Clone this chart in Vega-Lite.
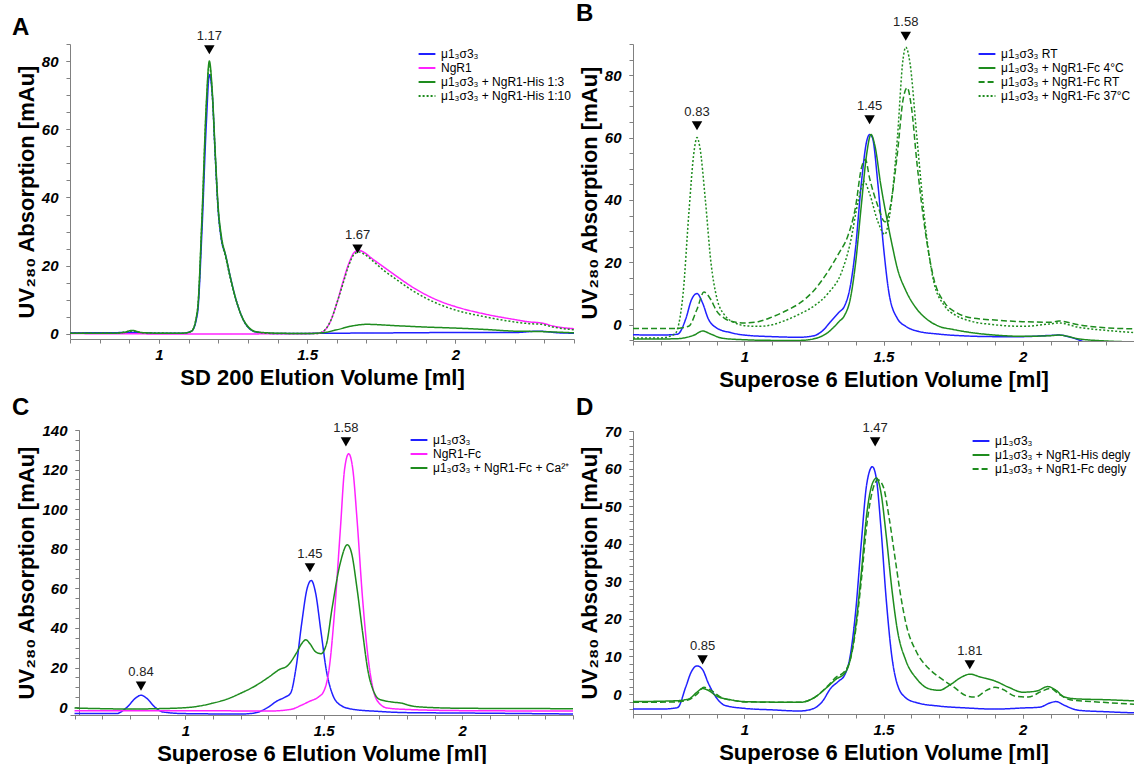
{
"$schema": "https://vega.github.io/schema/vega-lite/v6.json",
"padding": {"left": 12, "top": 2, "right": 0, "bottom": 0},
"config": {
  "font": "Liberation Sans",
  "view": {"stroke": null},
  "axis": {"grid": false, "domainColor": "#808080", "tickColor": "#808080", "tickSize": 4, "labelFont": "Liberation Sans", "labelFontSize": 15, "labelFontWeight": "bold", "labelFontStyle": "italic", "labelColor": "#000", "labelPadding": 4, "labelOverlap": false, "labelFlush": false, "labelBound": false, "titleFont": "Liberation Sans", "titleFontSize": 22, "titleFontWeight": "bold", "titleColor": "#000"},
  "axisX": {"titlePadding": 5},
  "axisY": {"titlePadding": 3, "labelPadding": 8},
  "legend": {"orient": "top-right", "offset": 3, "padding": 0, "title": null, "labelFont": "Liberation Sans", "labelFontSize": 12, "labelColor": "#000", "labelLimit": 400, "symbolType": "M-1.4,0H1.4", "symbolSize": 144, "symbolStrokeWidth": 2, "rowPadding": 1, "labelOffset": 7},
  "title": {"anchor": "start", "frame": "group", "fontSize": 24, "fontWeight": "bold", "font": "Liberation Sans", "color": "#000", "baseline": "alphabetic", "offset": -10}
},
"datasets": {
 "A": [
  {"s":"μ1₃σ3₃","x":0.70,"y":0.3},{"s":"μ1₃σ3₃","x":0.80,"y":0.3},{"s":"μ1₃σ3₃","x":0.90,"y":0.4},{"s":"μ1₃σ3₃","x":1.00,"y":0.2},{"s":"μ1₃σ3₃","x":1.08,"y":0.2},{"s":"μ1₃σ3₃","x":1.11,"y":0.8},{"s":"μ1₃σ3₃","x":1.13,"y":6},{"s":"μ1₃σ3₃","x":1.145,"y":30},{"s":"μ1₃σ3₃","x":1.16,"y":62},{"s":"μ1₃σ3₃","x":1.17,"y":76},{"s":"μ1₃σ3₃","x":1.18,"y":70},{"s":"μ1₃σ3₃","x":1.19,"y":52},{"s":"μ1₃σ3₃","x":1.20,"y":36},{"s":"μ1₃σ3₃","x":1.21,"y":28},{"s":"μ1₃σ3₃","x":1.225,"y":23},{"s":"μ1₃σ3₃","x":1.24,"y":17},{"s":"μ1₃σ3₃","x":1.26,"y":10},{"s":"μ1₃σ3₃","x":1.28,"y":5},{"s":"μ1₃σ3₃","x":1.30,"y":2},{"s":"μ1₃σ3₃","x":1.33,"y":0.5},{"s":"μ1₃σ3₃","x":1.40,"y":0.1},{"s":"μ1₃σ3₃","x":1.60,"y":0.2},{"s":"μ1₃σ3₃","x":1.80,"y":0.3},{"s":"μ1₃σ3₃","x":2.00,"y":0.4},{"s":"μ1₃σ3₃","x":2.20,"y":0.4},{"s":"μ1₃σ3₃","x":2.28,"y":0.8},{"s":"μ1₃σ3₃","x":2.35,"y":0.3},{"s":"μ1₃σ3₃","x":2.40,"y":0.2},
  {"s":"NgR1","x":0.70,"y":0.1},{"s":"NgR1","x":1.00,"y":0.0},{"s":"NgR1","x":1.30,"y":0.0},{"s":"NgR1","x":1.53,"y":0.1},{"s":"NgR1","x":1.55,"y":0.5},{"s":"NgR1","x":1.58,"y":4},{"s":"NgR1","x":1.60,"y":9},{"s":"NgR1","x":1.62,"y":15},{"s":"NgR1","x":1.64,"y":20.5},{"s":"NgR1","x":1.66,"y":24},{"s":"NgR1","x":1.675,"y":24.5},{"s":"NgR1","x":1.69,"y":24},{"s":"NgR1","x":1.72,"y":22},{"s":"NgR1","x":1.76,"y":19.5},{"s":"NgR1","x":1.80,"y":17},{"s":"NgR1","x":1.85,"y":14},{"s":"NgR1","x":1.90,"y":11.5},{"s":"NgR1","x":1.95,"y":9.5},{"s":"NgR1","x":2.00,"y":8},{"s":"NgR1","x":2.10,"y":5.8},{"s":"NgR1","x":2.20,"y":4.2},{"s":"NgR1","x":2.25,"y":3.5},{"s":"NgR1","x":2.29,"y":3.2},{"s":"NgR1","x":2.33,"y":2.3},{"s":"NgR1","x":2.40,"y":1.5},
  {"s":"μ1₃σ3₃ + NgR1-His 1:3","x":0.70,"y":0.2},{"s":"μ1₃σ3₃ + NgR1-His 1:3","x":0.85,"y":0.2},{"s":"μ1₃σ3₃ + NgR1-His 1:3","x":0.88,"y":0.4},{"s":"μ1₃σ3₃ + NgR1-His 1:3","x":0.91,"y":1.0},{"s":"μ1₃σ3₃ + NgR1-His 1:3","x":0.94,"y":0.4},{"s":"μ1₃σ3₃ + NgR1-His 1:3","x":1.00,"y":0.2},{"s":"μ1₃σ3₃ + NgR1-His 1:3","x":1.08,"y":0.2},{"s":"μ1₃σ3₃ + NgR1-His 1:3","x":1.11,"y":0.8},{"s":"μ1₃σ3₃ + NgR1-His 1:3","x":1.13,"y":7},{"s":"μ1₃σ3₃ + NgR1-His 1:3","x":1.145,"y":34},{"s":"μ1₃σ3₃ + NgR1-His 1:3","x":1.16,"y":68},{"s":"μ1₃σ3₃ + NgR1-His 1:3","x":1.17,"y":80},{"s":"μ1₃σ3₃ + NgR1-His 1:3","x":1.18,"y":71},{"s":"μ1₃σ3₃ + NgR1-His 1:3","x":1.19,"y":53},{"s":"μ1₃σ3₃ + NgR1-His 1:3","x":1.20,"y":37},{"s":"μ1₃σ3₃ + NgR1-His 1:3","x":1.21,"y":29},{"s":"μ1₃σ3₃ + NgR1-His 1:3","x":1.225,"y":23},{"s":"μ1₃σ3₃ + NgR1-His 1:3","x":1.24,"y":17},{"s":"μ1₃σ3₃ + NgR1-His 1:3","x":1.26,"y":10},{"s":"μ1₃σ3₃ + NgR1-His 1:3","x":1.28,"y":5},{"s":"μ1₃σ3₃ + NgR1-His 1:3","x":1.30,"y":2.2},{"s":"μ1₃σ3₃ + NgR1-His 1:3","x":1.33,"y":0.6},{"s":"μ1₃σ3₃ + NgR1-His 1:3","x":1.40,"y":0.2},{"s":"μ1₃σ3₃ + NgR1-His 1:3","x":1.50,"y":0.1},{"s":"μ1₃σ3₃ + NgR1-His 1:3","x":1.55,"y":0.3},{"s":"μ1₃σ3₃ + NgR1-His 1:3","x":1.60,"y":1.2},{"s":"μ1₃σ3₃ + NgR1-His 1:3","x":1.65,"y":2.3},{"s":"μ1₃σ3₃ + NgR1-His 1:3","x":1.70,"y":2.8},{"s":"μ1₃σ3₃ + NgR1-His 1:3","x":1.80,"y":2.4},{"s":"μ1₃σ3₃ + NgR1-His 1:3","x":1.90,"y":2.0},{"s":"μ1₃σ3₃ + NgR1-His 1:3","x":2.00,"y":1.7},{"s":"μ1₃σ3₃ + NgR1-His 1:3","x":2.10,"y":1.3},{"s":"μ1₃σ3₃ + NgR1-His 1:3","x":2.20,"y":0.8},{"s":"μ1₃σ3₃ + NgR1-His 1:3","x":2.28,"y":0.7},{"s":"μ1₃σ3₃ + NgR1-His 1:3","x":2.40,"y":0.3},
  {"s":"μ1₃σ3₃ + NgR1-His 1:10","x":0.70,"y":0.2},{"s":"μ1₃σ3₃ + NgR1-His 1:10","x":0.85,"y":0.2},{"s":"μ1₃σ3₃ + NgR1-His 1:10","x":0.91,"y":0.8},{"s":"μ1₃σ3₃ + NgR1-His 1:10","x":0.95,"y":0.3},{"s":"μ1₃σ3₃ + NgR1-His 1:10","x":1.08,"y":0.2},{"s":"μ1₃σ3₃ + NgR1-His 1:10","x":1.11,"y":0.8},{"s":"μ1₃σ3₃ + NgR1-His 1:10","x":1.13,"y":7},{"s":"μ1₃σ3₃ + NgR1-His 1:10","x":1.145,"y":33},{"s":"μ1₃σ3₃ + NgR1-His 1:10","x":1.16,"y":67},{"s":"μ1₃σ3₃ + NgR1-His 1:10","x":1.17,"y":79},{"s":"μ1₃σ3₃ + NgR1-His 1:10","x":1.18,"y":70},{"s":"μ1₃σ3₃ + NgR1-His 1:10","x":1.19,"y":52},{"s":"μ1₃σ3₃ + NgR1-His 1:10","x":1.20,"y":36},{"s":"μ1₃σ3₃ + NgR1-His 1:10","x":1.21,"y":28},{"s":"μ1₃σ3₃ + NgR1-His 1:10","x":1.225,"y":22.5},{"s":"μ1₃σ3₃ + NgR1-His 1:10","x":1.24,"y":16.5},{"s":"μ1₃σ3₃ + NgR1-His 1:10","x":1.26,"y":10},{"s":"μ1₃σ3₃ + NgR1-His 1:10","x":1.28,"y":5},{"s":"μ1₃σ3₃ + NgR1-His 1:10","x":1.30,"y":2},{"s":"μ1₃σ3₃ + NgR1-His 1:10","x":1.33,"y":0.5},{"s":"μ1₃σ3₃ + NgR1-His 1:10","x":1.40,"y":0.1},{"s":"μ1₃σ3₃ + NgR1-His 1:10","x":1.53,"y":0.1},{"s":"μ1₃σ3₃ + NgR1-His 1:10","x":1.55,"y":0.5},{"s":"μ1₃σ3₃ + NgR1-His 1:10","x":1.58,"y":4},{"s":"μ1₃σ3₃ + NgR1-His 1:10","x":1.60,"y":9},{"s":"μ1₃σ3₃ + NgR1-His 1:10","x":1.62,"y":14.5},{"s":"μ1₃σ3₃ + NgR1-His 1:10","x":1.64,"y":20},{"s":"μ1₃σ3₃ + NgR1-His 1:10","x":1.66,"y":23.5},{"s":"μ1₃σ3₃ + NgR1-His 1:10","x":1.675,"y":24},{"s":"μ1₃σ3₃ + NgR1-His 1:10","x":1.69,"y":23.5},{"s":"μ1₃σ3₃ + NgR1-His 1:10","x":1.72,"y":21.5},{"s":"μ1₃σ3₃ + NgR1-His 1:10","x":1.76,"y":18.5},{"s":"μ1₃σ3₃ + NgR1-His 1:10","x":1.80,"y":16},{"s":"μ1₃σ3₃ + NgR1-His 1:10","x":1.85,"y":13},{"s":"μ1₃σ3₃ + NgR1-His 1:10","x":1.90,"y":10.5},{"s":"μ1₃σ3₃ + NgR1-His 1:10","x":1.95,"y":8.5},{"s":"μ1₃σ3₃ + NgR1-His 1:10","x":2.00,"y":7},{"s":"μ1₃σ3₃ + NgR1-His 1:10","x":2.10,"y":5},{"s":"μ1₃σ3₃ + NgR1-His 1:10","x":2.20,"y":3.5},{"s":"μ1₃σ3₃ + NgR1-His 1:10","x":2.25,"y":3.0},{"s":"μ1₃σ3₃ + NgR1-His 1:10","x":2.29,"y":2.8},{"s":"μ1₃σ3₃ + NgR1-His 1:10","x":2.33,"y":2.0},{"s":"μ1₃σ3₃ + NgR1-His 1:10","x":2.40,"y":1.2}
 ],
 "B": [
  {"s":"μ1₃σ3₃ RT","x":0.60,"y":-3.2},{"s":"μ1₃σ3₃ RT","x":0.70,"y":-3.3},{"s":"μ1₃σ3₃ RT","x":0.76,"y":-3.0},{"s":"μ1₃σ3₃ RT","x":0.79,"y":2},{"s":"μ1₃σ3₃ RT","x":0.81,"y":8},{"s":"μ1₃σ3₃ RT","x":0.83,"y":10},{"s":"μ1₃σ3₃ RT","x":0.85,"y":7},{"s":"μ1₃σ3₃ RT","x":0.87,"y":2},{"s":"μ1₃σ3₃ RT","x":0.90,"y":-1},{"s":"μ1₃σ3₃ RT","x":0.95,"y":-2.5},{"s":"μ1₃σ3₃ RT","x":1.00,"y":-3.3},{"s":"μ1₃σ3₃ RT","x":1.10,"y":-3.8},{"s":"μ1₃σ3₃ RT","x":1.20,"y":-4.0},{"s":"μ1₃σ3₃ RT","x":1.25,"y":-3.5},{"s":"μ1₃σ3₃ RT","x":1.28,"y":-2},{"s":"μ1₃σ3₃ RT","x":1.31,"y":1},{"s":"μ1₃σ3₃ RT","x":1.34,"y":4},{"s":"μ1₃σ3₃ RT","x":1.36,"y":6},{"s":"μ1₃σ3₃ RT","x":1.38,"y":12},{"s":"μ1₃σ3₃ RT","x":1.40,"y":25},{"s":"μ1₃σ3₃ RT","x":1.42,"y":45},{"s":"μ1₃σ3₃ RT","x":1.44,"y":59},{"s":"μ1₃σ3₃ RT","x":1.45,"y":61},{"s":"μ1₃σ3₃ RT","x":1.46,"y":60},{"s":"μ1₃σ3₃ RT","x":1.48,"y":45},{"s":"μ1₃σ3₃ RT","x":1.50,"y":25},{"s":"μ1₃σ3₃ RT","x":1.52,"y":10},{"s":"μ1₃σ3₃ RT","x":1.55,"y":2},{"s":"μ1₃σ3₃ RT","x":1.58,"y":-0.5},{"s":"μ1₃σ3₃ RT","x":1.62,"y":-2},{"s":"μ1₃σ3₃ RT","x":1.70,"y":-3},{"s":"μ1₃σ3₃ RT","x":1.80,"y":-3.6},{"s":"μ1₃σ3₃ RT","x":1.90,"y":-3.8},{"s":"μ1₃σ3₃ RT","x":2.00,"y":-3.8},{"s":"μ1₃σ3₃ RT","x":2.10,"y":-3.4},{"s":"μ1₃σ3₃ RT","x":2.13,"y":-3.3},{"s":"μ1₃σ3₃ RT","x":2.18,"y":-4.2},{"s":"μ1₃σ3₃ RT","x":2.22,"y":-5.5},
  {"s":"μ1₃σ3₃ + NgR1-Fc 4°C","x":0.60,"y":-4.6},{"s":"μ1₃σ3₃ + NgR1-Fc 4°C","x":0.75,"y":-4.5},{"s":"μ1₃σ3₃ + NgR1-Fc 4°C","x":0.82,"y":-3.3},{"s":"μ1₃σ3₃ + NgR1-Fc 4°C","x":0.85,"y":-2},{"s":"μ1₃σ3₃ + NgR1-Fc 4°C","x":0.88,"y":-3},{"s":"μ1₃σ3₃ + NgR1-Fc 4°C","x":0.92,"y":-4.3},{"s":"μ1₃σ3₃ + NgR1-Fc 4°C","x":1.00,"y":-4.8},{"s":"μ1₃σ3₃ + NgR1-Fc 4°C","x":1.10,"y":-5},{"s":"μ1₃σ3₃ + NgR1-Fc 4°C","x":1.20,"y":-5},{"s":"μ1₃σ3₃ + NgR1-Fc 4°C","x":1.25,"y":-4.5},{"s":"μ1₃σ3₃ + NgR1-Fc 4°C","x":1.30,"y":-2.5},{"s":"μ1₃σ3₃ + NgR1-Fc 4°C","x":1.34,"y":1},{"s":"μ1₃σ3₃ + NgR1-Fc 4°C","x":1.36,"y":3},{"s":"μ1₃σ3₃ + NgR1-Fc 4°C","x":1.38,"y":8},{"s":"μ1₃σ3₃ + NgR1-Fc 4°C","x":1.40,"y":20},{"s":"μ1₃σ3₃ + NgR1-Fc 4°C","x":1.42,"y":38},{"s":"μ1₃σ3₃ + NgR1-Fc 4°C","x":1.44,"y":55},{"s":"μ1₃σ3₃ + NgR1-Fc 4°C","x":1.455,"y":61},{"s":"μ1₃σ3₃ + NgR1-Fc 4°C","x":1.47,"y":57},{"s":"μ1₃σ3₃ + NgR1-Fc 4°C","x":1.49,"y":45},{"s":"μ1₃σ3₃ + NgR1-Fc 4°C","x":1.51,"y":35},{"s":"μ1₃σ3₃ + NgR1-Fc 4°C","x":1.53,"y":26},{"s":"μ1₃σ3₃ + NgR1-Fc 4°C","x":1.55,"y":18},{"s":"μ1₃σ3₃ + NgR1-Fc 4°C","x":1.58,"y":11},{"s":"μ1₃σ3₃ + NgR1-Fc 4°C","x":1.62,"y":5},{"s":"μ1₃σ3₃ + NgR1-Fc 4°C","x":1.66,"y":1.5},{"s":"μ1₃σ3₃ + NgR1-Fc 4°C","x":1.70,"y":-0.5},{"s":"μ1₃σ3₃ + NgR1-Fc 4°C","x":1.75,"y":-1.5},{"s":"μ1₃σ3₃ + NgR1-Fc 4°C","x":1.80,"y":-2.3},{"s":"μ1₃σ3₃ + NgR1-Fc 4°C","x":1.90,"y":-3.3},{"s":"μ1₃σ3₃ + NgR1-Fc 4°C","x":2.00,"y":-3.7},{"s":"μ1₃σ3₃ + NgR1-Fc 4°C","x":2.10,"y":-3.5},{"s":"μ1₃σ3₃ + NgR1-Fc 4°C","x":2.13,"y":-3.3},{"s":"μ1₃σ3₃ + NgR1-Fc 4°C","x":2.20,"y":-4.5},{"s":"μ1₃σ3₃ + NgR1-Fc 4°C","x":2.30,"y":-5.2},{"s":"μ1₃σ3₃ + NgR1-Fc 4°C","x":2.40,"y":-5.5},
  {"s":"μ1₃σ3₃ + NgR1-Fc RT","x":0.60,"y":-1.2},{"s":"μ1₃σ3₃ + NgR1-Fc RT","x":0.75,"y":-1.2},{"s":"μ1₃σ3₃ + NgR1-Fc RT","x":0.80,"y":-0.5},{"s":"μ1₃σ3₃ + NgR1-Fc RT","x":0.83,"y":5},{"s":"μ1₃σ3₃ + NgR1-Fc RT","x":0.855,"y":10.5},{"s":"μ1₃σ3₃ + NgR1-Fc RT","x":0.88,"y":8},{"s":"μ1₃σ3₃ + NgR1-Fc RT","x":0.90,"y":4.5},{"s":"μ1₃σ3₃ + NgR1-Fc RT","x":0.93,"y":2},{"s":"μ1₃σ3₃ + NgR1-Fc RT","x":0.97,"y":0.8},{"s":"μ1₃σ3₃ + NgR1-Fc RT","x":1.00,"y":0.6},{"s":"μ1₃σ3₃ + NgR1-Fc RT","x":1.05,"y":1},{"s":"μ1₃σ3₃ + NgR1-Fc RT","x":1.10,"y":2.5},{"s":"μ1₃σ3₃ + NgR1-Fc RT","x":1.15,"y":4.5},{"s":"μ1₃σ3₃ + NgR1-Fc RT","x":1.20,"y":7},{"s":"μ1₃σ3₃ + NgR1-Fc RT","x":1.25,"y":11},{"s":"μ1₃σ3₃ + NgR1-Fc RT","x":1.30,"y":17},{"s":"μ1₃σ3₃ + NgR1-Fc RT","x":1.34,"y":23},{"s":"μ1₃σ3₃ + NgR1-Fc RT","x":1.37,"y":28},{"s":"μ1₃σ3₃ + NgR1-Fc RT","x":1.40,"y":38},{"s":"μ1₃σ3₃ + NgR1-Fc RT","x":1.42,"y":50},{"s":"μ1₃σ3₃ + NgR1-Fc RT","x":1.435,"y":53},{"s":"μ1₃σ3₃ + NgR1-Fc RT","x":1.45,"y":47},{"s":"μ1₃σ3₃ + NgR1-Fc RT","x":1.48,"y":38},{"s":"μ1₃σ3₃ + NgR1-Fc RT","x":1.505,"y":33},{"s":"μ1₃σ3₃ + NgR1-Fc RT","x":1.52,"y":36},{"s":"μ1₃σ3₃ + NgR1-Fc RT","x":1.55,"y":55},{"s":"μ1₃σ3₃ + NgR1-Fc RT","x":1.57,"y":72},{"s":"μ1₃σ3₃ + NgR1-Fc RT","x":1.585,"y":76},{"s":"μ1₃σ3₃ + NgR1-Fc RT","x":1.60,"y":70},{"s":"μ1₃σ3₃ + NgR1-Fc RT","x":1.62,"y":52},{"s":"μ1₃σ3₃ + NgR1-Fc RT","x":1.65,"y":30},{"s":"μ1₃σ3₃ + NgR1-Fc RT","x":1.68,"y":15},{"s":"μ1₃σ3₃ + NgR1-Fc RT","x":1.72,"y":7},{"s":"μ1₃σ3₃ + NgR1-Fc RT","x":1.76,"y":4},{"s":"μ1₃σ3₃ + NgR1-Fc RT","x":1.80,"y":2.5},{"s":"μ1₃σ3₃ + NgR1-Fc RT","x":1.90,"y":1.5},{"s":"μ1₃σ3₃ + NgR1-Fc RT","x":2.00,"y":1},{"s":"μ1₃σ3₃ + NgR1-Fc RT","x":2.10,"y":0.8},{"s":"μ1₃σ3₃ + NgR1-Fc RT","x":2.13,"y":1.2},{"s":"μ1₃σ3₃ + NgR1-Fc RT","x":2.20,"y":0},{"s":"μ1₃σ3₃ + NgR1-Fc RT","x":2.30,"y":-1},{"s":"μ1₃σ3₃ + NgR1-Fc RT","x":2.40,"y":-1.3},
  {"s":"μ1₃σ3₃ + NgR1-Fc 37°C","x":0.60,"y":-4.2},{"s":"μ1₃σ3₃ + NgR1-Fc 37°C","x":0.70,"y":-4.2},{"s":"μ1₃σ3₃ + NgR1-Fc 37°C","x":0.75,"y":-3},{"s":"μ1₃σ3₃ + NgR1-Fc 37°C","x":0.78,"y":10},{"s":"μ1₃σ3₃ + NgR1-Fc 37°C","x":0.80,"y":35},{"s":"μ1₃σ3₃ + NgR1-Fc 37°C","x":0.82,"y":56},{"s":"μ1₃σ3₃ + NgR1-Fc 37°C","x":0.83,"y":60},{"s":"μ1₃σ3₃ + NgR1-Fc 37°C","x":0.84,"y":57},{"s":"μ1₃σ3₃ + NgR1-Fc 37°C","x":0.86,"y":40},{"s":"μ1₃σ3₃ + NgR1-Fc 37°C","x":0.88,"y":20},{"s":"μ1₃σ3₃ + NgR1-Fc 37°C","x":0.90,"y":9},{"s":"μ1₃σ3₃ + NgR1-Fc 37°C","x":0.93,"y":3},{"s":"μ1₃σ3₃ + NgR1-Fc 37°C","x":0.97,"y":0.5},{"s":"μ1₃σ3₃ + NgR1-Fc 37°C","x":1.00,"y":-0.3},{"s":"μ1₃σ3₃ + NgR1-Fc 37°C","x":1.05,"y":-0.5},{"s":"μ1₃σ3₃ + NgR1-Fc 37°C","x":1.10,"y":0},{"s":"μ1₃σ3₃ + NgR1-Fc 37°C","x":1.15,"y":1.5},{"s":"μ1₃σ3₃ + NgR1-Fc 37°C","x":1.20,"y":3.5},{"s":"μ1₃σ3₃ + NgR1-Fc 37°C","x":1.25,"y":6},{"s":"μ1₃σ3₃ + NgR1-Fc 37°C","x":1.30,"y":10},{"s":"μ1₃σ3₃ + NgR1-Fc 37°C","x":1.35,"y":17},{"s":"μ1₃σ3₃ + NgR1-Fc 37°C","x":1.38,"y":26},{"s":"μ1₃σ3₃ + NgR1-Fc 37°C","x":1.41,"y":40},{"s":"μ1₃σ3₃ + NgR1-Fc 37°C","x":1.43,"y":46},{"s":"μ1₃σ3₃ + NgR1-Fc 37°C","x":1.45,"y":42},{"s":"μ1₃σ3₃ + NgR1-Fc 37°C","x":1.48,"y":33},{"s":"μ1₃σ3₃ + NgR1-Fc 37°C","x":1.505,"y":29},{"s":"μ1₃σ3₃ + NgR1-Fc 37°C","x":1.52,"y":34},{"s":"μ1₃σ3₃ + NgR1-Fc 37°C","x":1.55,"y":60},{"s":"μ1₃σ3₃ + NgR1-Fc 37°C","x":1.57,"y":85},{"s":"μ1₃σ3₃ + NgR1-Fc 37°C","x":1.58,"y":89},{"s":"μ1₃σ3₃ + NgR1-Fc 37°C","x":1.595,"y":84},{"s":"μ1₃σ3₃ + NgR1-Fc 37°C","x":1.62,"y":60},{"s":"μ1₃σ3₃ + NgR1-Fc 37°C","x":1.65,"y":32},{"s":"μ1₃σ3₃ + NgR1-Fc 37°C","x":1.68,"y":14},{"s":"μ1₃σ3₃ + NgR1-Fc 37°C","x":1.72,"y":6},{"s":"μ1₃σ3₃ + NgR1-Fc 37°C","x":1.76,"y":3},{"s":"μ1₃σ3₃ + NgR1-Fc 37°C","x":1.80,"y":1.5},{"s":"μ1₃σ3₃ + NgR1-Fc 37°C","x":1.90,"y":0},{"s":"μ1₃σ3₃ + NgR1-Fc 37°C","x":2.00,"y":-0.5},{"s":"μ1₃σ3₃ + NgR1-Fc 37°C","x":2.10,"y":0.3},{"s":"μ1₃σ3₃ + NgR1-Fc 37°C","x":2.13,"y":0.6},{"s":"μ1₃σ3₃ + NgR1-Fc 37°C","x":2.20,"y":-0.8},{"s":"μ1₃σ3₃ + NgR1-Fc 37°C","x":2.30,"y":-1.8},{"s":"μ1₃σ3₃ + NgR1-Fc 37°C","x":2.40,"y":-2.5}
 ],
 "C": [
  {"s":"μ1₃σ3₃","x":0.60,"y":-3.3},{"s":"μ1₃σ3₃","x":0.75,"y":-3.3},{"s":"μ1₃σ3₃","x":0.79,"y":0},{"s":"μ1₃σ3₃","x":0.82,"y":4.5},{"s":"μ1₃σ3₃","x":0.84,"y":6},{"s":"μ1₃σ3₃","x":0.86,"y":4.5},{"s":"μ1₃σ3₃","x":0.89,"y":0},{"s":"μ1₃σ3₃","x":0.92,"y":-2.5},{"s":"μ1₃σ3₃","x":1.00,"y":-3.3},{"s":"μ1₃σ3₃","x":1.20,"y":-3.5},{"s":"μ1₃σ3₃","x":1.25,"y":-3},{"s":"μ1₃σ3₃","x":1.30,"y":0},{"s":"μ1₃σ3₃","x":1.33,"y":3},{"s":"μ1₃σ3₃","x":1.36,"y":5},{"s":"μ1₃σ3₃","x":1.38,"y":7},{"s":"μ1₃σ3₃","x":1.40,"y":20},{"s":"μ1₃σ3₃","x":1.42,"y":42},{"s":"μ1₃σ3₃","x":1.44,"y":60},{"s":"μ1₃σ3₃","x":1.455,"y":64},{"s":"μ1₃σ3₃","x":1.47,"y":58},{"s":"μ1₃σ3₃","x":1.49,"y":38},{"s":"μ1₃σ3₃","x":1.51,"y":18},{"s":"μ1₃σ3₃","x":1.53,"y":7},{"s":"μ1₃σ3₃","x":1.56,"y":1},{"s":"μ1₃σ3₃","x":1.60,"y":-1},{"s":"μ1₃σ3₃","x":1.70,"y":-2.2},{"s":"μ1₃σ3₃","x":1.80,"y":-2.8},{"s":"μ1₃σ3₃","x":2.00,"y":-3},{"s":"μ1₃σ3₃","x":2.40,"y":-3.5},
  {"s":"NgR1-Fc","x":0.60,"y":-1.8},{"s":"NgR1-Fc","x":1.00,"y":-1.8},{"s":"NgR1-Fc","x":1.30,"y":-2},{"s":"NgR1-Fc","x":1.38,"y":-1.2},{"s":"NgR1-Fc","x":1.42,"y":1},{"s":"NgR1-Fc","x":1.45,"y":3},{"s":"NgR1-Fc","x":1.48,"y":5},{"s":"NgR1-Fc","x":1.50,"y":8},{"s":"NgR1-Fc","x":1.52,"y":20},{"s":"NgR1-Fc","x":1.54,"y":50},{"s":"NgR1-Fc","x":1.56,"y":90},{"s":"NgR1-Fc","x":1.575,"y":120},{"s":"NgR1-Fc","x":1.59,"y":128},{"s":"NgR1-Fc","x":1.605,"y":120},{"s":"NgR1-Fc","x":1.62,"y":95},{"s":"NgR1-Fc","x":1.64,"y":55},{"s":"NgR1-Fc","x":1.66,"y":25},{"s":"NgR1-Fc","x":1.68,"y":8},{"s":"NgR1-Fc","x":1.70,"y":2},{"s":"NgR1-Fc","x":1.73,"y":-0.5},{"s":"NgR1-Fc","x":1.80,"y":-1.2},{"s":"NgR1-Fc","x":2.00,"y":-1.8},{"s":"NgR1-Fc","x":2.40,"y":-2},
  {"s":"μ1₃σ3₃ + NgR1-Fc + Ca²⁺","x":0.60,"y":-0.5},{"s":"μ1₃σ3₃ + NgR1-Fc + Ca²⁺","x":0.70,"y":-0.8},{"s":"μ1₃σ3₃ + NgR1-Fc + Ca²⁺","x":0.80,"y":-1},{"s":"μ1₃σ3₃ + NgR1-Fc + Ca²⁺","x":0.90,"y":-0.8},{"s":"μ1₃σ3₃ + NgR1-Fc + Ca²⁺","x":1.00,"y":-0.3},{"s":"μ1₃σ3₃ + NgR1-Fc + Ca²⁺","x":1.05,"y":0.5},{"s":"μ1₃σ3₃ + NgR1-Fc + Ca²⁺","x":1.10,"y":2},{"s":"μ1₃σ3₃ + NgR1-Fc + Ca²⁺","x":1.15,"y":4},{"s":"μ1₃σ3₃ + NgR1-Fc + Ca²⁺","x":1.20,"y":7},{"s":"μ1₃σ3₃ + NgR1-Fc + Ca²⁺","x":1.25,"y":10.5},{"s":"μ1₃σ3₃ + NgR1-Fc + Ca²⁺","x":1.30,"y":15},{"s":"μ1₃σ3₃ + NgR1-Fc + Ca²⁺","x":1.34,"y":19},{"s":"μ1₃σ3₃ + NgR1-Fc + Ca²⁺","x":1.37,"y":21},{"s":"μ1₃σ3₃ + NgR1-Fc + Ca²⁺","x":1.40,"y":27},{"s":"μ1₃σ3₃ + NgR1-Fc + Ca²⁺","x":1.42,"y":32},{"s":"μ1₃σ3₃ + NgR1-Fc + Ca²⁺","x":1.435,"y":34},{"s":"μ1₃σ3₃ + NgR1-Fc + Ca²⁺","x":1.45,"y":32},{"s":"μ1₃σ3₃ + NgR1-Fc + Ca²⁺","x":1.47,"y":28},{"s":"μ1₃σ3₃ + NgR1-Fc + Ca²⁺","x":1.49,"y":27},{"s":"μ1₃σ3₃ + NgR1-Fc + Ca²⁺","x":1.51,"y":32},{"s":"μ1₃σ3₃ + NgR1-Fc + Ca²⁺","x":1.53,"y":50},{"s":"μ1₃σ3₃ + NgR1-Fc + Ca²⁺","x":1.56,"y":73},{"s":"μ1₃σ3₃ + NgR1-Fc + Ca²⁺","x":1.585,"y":82},{"s":"μ1₃σ3₃ + NgR1-Fc + Ca²⁺","x":1.60,"y":78},{"s":"μ1₃σ3₃ + NgR1-Fc + Ca²⁺","x":1.62,"y":60},{"s":"μ1₃σ3₃ + NgR1-Fc + Ca²⁺","x":1.64,"y":38},{"s":"μ1₃σ3₃ + NgR1-Fc + Ca²⁺","x":1.66,"y":18},{"s":"μ1₃σ3₃ + NgR1-Fc + Ca²⁺","x":1.68,"y":8},{"s":"μ1₃σ3₃ + NgR1-Fc + Ca²⁺","x":1.70,"y":4},{"s":"μ1₃σ3₃ + NgR1-Fc + Ca²⁺","x":1.75,"y":2.5},{"s":"μ1₃σ3₃ + NgR1-Fc + Ca²⁺","x":1.78,"y":2},{"s":"μ1₃σ3₃ + NgR1-Fc + Ca²⁺","x":1.82,"y":0.5},{"s":"μ1₃σ3₃ + NgR1-Fc + Ca²⁺","x":1.90,"y":-0.3},{"s":"μ1₃σ3₃ + NgR1-Fc + Ca²⁺","x":2.00,"y":-0.6},{"s":"μ1₃σ3₃ + NgR1-Fc + Ca²⁺","x":2.40,"y":-0.8}
 ],
 "D": [
  {"s":"μ1₃σ3₃","x":0.60,"y":-4.0},{"s":"μ1₃σ3₃","x":0.70,"y":-4.0},{"s":"μ1₃σ3₃","x":0.76,"y":-3.6},{"s":"μ1₃σ3₃","x":0.79,"y":2},{"s":"μ1₃σ3₃","x":0.81,"y":6},{"s":"μ1₃σ3₃","x":0.83,"y":7.5},{"s":"μ1₃σ3₃","x":0.85,"y":6.5},{"s":"μ1₃σ3₃","x":0.87,"y":3},{"s":"μ1₃σ3₃","x":0.90,"y":-1},{"s":"μ1₃σ3₃","x":0.93,"y":-3},{"s":"μ1₃σ3₃","x":1.00,"y":-3.8},{"s":"μ1₃σ3₃","x":1.10,"y":-4.2},{"s":"μ1₃σ3₃","x":1.20,"y":-4.5},{"s":"μ1₃σ3₃","x":1.25,"y":-3.8},{"s":"μ1₃σ3₃","x":1.28,"y":-2},{"s":"μ1₃σ3₃","x":1.31,"y":1.5},{"s":"μ1₃σ3₃","x":1.34,"y":3.5},{"s":"μ1₃σ3₃","x":1.36,"y":5},{"s":"μ1₃σ3₃","x":1.38,"y":10},{"s":"μ1₃σ3₃","x":1.40,"y":22},{"s":"μ1₃σ3₃","x":1.42,"y":40},{"s":"μ1₃σ3₃","x":1.44,"y":56},{"s":"μ1₃σ3₃","x":1.46,"y":60.5},{"s":"μ1₃σ3₃","x":1.475,"y":57},{"s":"μ1₃σ3₃","x":1.49,"y":45},{"s":"μ1₃σ3₃","x":1.51,"y":25},{"s":"μ1₃σ3₃","x":1.53,"y":10},{"s":"μ1₃σ3₃","x":1.55,"y":2.5},{"s":"μ1₃σ3₃","x":1.58,"y":-1},{"s":"μ1₃σ3₃","x":1.62,"y":-2.3},{"s":"μ1₃σ3₃","x":1.70,"y":-3.2},{"s":"μ1₃σ3₃","x":1.80,"y":-3.7},{"s":"μ1₃σ3₃","x":1.90,"y":-4},{"s":"μ1₃σ3₃","x":2.00,"y":-3.7},{"s":"μ1₃σ3₃","x":2.06,"y":-3.5},{"s":"μ1₃σ3₃","x":2.10,"y":-2.3},{"s":"μ1₃σ3₃","x":2.12,"y":-2},{"s":"μ1₃σ3₃","x":2.15,"y":-3},{"s":"μ1₃σ3₃","x":2.20,"y":-4.3},{"s":"μ1₃σ3₃","x":2.30,"y":-4.7},{"s":"μ1₃σ3₃","x":2.40,"y":-5},
  {"s":"μ1₃σ3₃ + NgR1-His degly","x":0.60,"y":-2.0},{"s":"μ1₃σ3₃ + NgR1-His degly","x":0.75,"y":-1.8},{"s":"μ1₃σ3₃ + NgR1-His degly","x":0.80,"y":-1.3},{"s":"μ1₃σ3₃ + NgR1-His degly","x":0.83,"y":0.5},{"s":"μ1₃σ3₃ + NgR1-His degly","x":0.85,"y":1.5},{"s":"μ1₃σ3₃ + NgR1-His degly","x":0.87,"y":1},{"s":"μ1₃σ3₃ + NgR1-His degly","x":0.90,"y":-0.5},{"s":"μ1₃σ3₃ + NgR1-His degly","x":0.95,"y":-1.5},{"s":"μ1₃σ3₃ + NgR1-His degly","x":1.00,"y":-2},{"s":"μ1₃σ3₃ + NgR1-His degly","x":1.20,"y":-2.2},{"s":"μ1₃σ3₃ + NgR1-His degly","x":1.25,"y":-1},{"s":"μ1₃σ3₃ + NgR1-His degly","x":1.30,"y":2},{"s":"μ1₃σ3₃ + NgR1-His degly","x":1.33,"y":4},{"s":"μ1₃σ3₃ + NgR1-His degly","x":1.36,"y":5.5},{"s":"μ1₃σ3₃ + NgR1-His degly","x":1.38,"y":9},{"s":"μ1₃σ3₃ + NgR1-His degly","x":1.40,"y":18},{"s":"μ1₃σ3₃ + NgR1-His degly","x":1.42,"y":32},{"s":"μ1₃σ3₃ + NgR1-His degly","x":1.44,"y":48},{"s":"μ1₃σ3₃ + NgR1-His degly","x":1.46,"y":56},{"s":"μ1₃σ3₃ + NgR1-His degly","x":1.475,"y":57.5},{"s":"μ1₃σ3₃ + NgR1-His degly","x":1.49,"y":54},{"s":"μ1₃σ3₃ + NgR1-His degly","x":1.51,"y":42},{"s":"μ1₃σ3₃ + NgR1-His degly","x":1.53,"y":28},{"s":"μ1₃σ3₃ + NgR1-His degly","x":1.55,"y":17},{"s":"μ1₃σ3₃ + NgR1-His degly","x":1.58,"y":9},{"s":"μ1₃σ3₃ + NgR1-His degly","x":1.62,"y":4},{"s":"μ1₃σ3₃ + NgR1-His degly","x":1.66,"y":1.5},{"s":"μ1₃σ3₃ + NgR1-His degly","x":1.70,"y":1},{"s":"μ1₃σ3₃ + NgR1-His degly","x":1.74,"y":2.5},{"s":"μ1₃σ3₃ + NgR1-His degly","x":1.78,"y":4.5},{"s":"μ1₃σ3₃ + NgR1-His degly","x":1.81,"y":5.3},{"s":"μ1₃σ3₃ + NgR1-His degly","x":1.85,"y":4.5},{"s":"μ1₃σ3₃ + NgR1-His degly","x":1.90,"y":3.5},{"s":"μ1₃σ3₃ + NgR1-His degly","x":1.95,"y":1.8},{"s":"μ1₃σ3₃ + NgR1-His degly","x":2.00,"y":0.5},{"s":"μ1₃σ3₃ + NgR1-His degly","x":2.05,"y":0.8},{"s":"μ1₃σ3₃ + NgR1-His degly","x":2.09,"y":2},{"s":"μ1₃σ3₃ + NgR1-His degly","x":2.12,"y":1},{"s":"μ1₃σ3₃ + NgR1-His degly","x":2.15,"y":-0.8},{"s":"μ1₃σ3₃ + NgR1-His degly","x":2.20,"y":-1.3},{"s":"μ1₃σ3₃ + NgR1-His degly","x":2.30,"y":-1.5},{"s":"μ1₃σ3₃ + NgR1-His degly","x":2.40,"y":-1.8},
  {"s":"μ1₃σ3₃ + NgR1-Fc degly","x":0.60,"y":-2.2},{"s":"μ1₃σ3₃ + NgR1-Fc degly","x":0.75,"y":-2.1},{"s":"μ1₃σ3₃ + NgR1-Fc degly","x":0.80,"y":-1.5},{"s":"μ1₃σ3₃ + NgR1-Fc degly","x":0.83,"y":0},{"s":"μ1₃σ3₃ + NgR1-Fc degly","x":0.855,"y":1.8},{"s":"μ1₃σ3₃ + NgR1-Fc degly","x":0.88,"y":1},{"s":"μ1₃σ3₃ + NgR1-Fc degly","x":0.92,"y":-1},{"s":"μ1₃σ3₃ + NgR1-Fc degly","x":0.97,"y":-1.8},{"s":"μ1₃σ3₃ + NgR1-Fc degly","x":1.00,"y":-2.1},{"s":"μ1₃σ3₃ + NgR1-Fc degly","x":1.20,"y":-2.2},{"s":"μ1₃σ3₃ + NgR1-Fc degly","x":1.25,"y":-1},{"s":"μ1₃σ3₃ + NgR1-Fc degly","x":1.30,"y":2.2},{"s":"μ1₃σ3₃ + NgR1-Fc degly","x":1.33,"y":4.5},{"s":"μ1₃σ3₃ + NgR1-Fc degly","x":1.36,"y":6},{"s":"μ1₃σ3₃ + NgR1-Fc degly","x":1.38,"y":9},{"s":"μ1₃σ3₃ + NgR1-Fc degly","x":1.40,"y":17},{"s":"μ1₃σ3₃ + NgR1-Fc degly","x":1.42,"y":30},{"s":"μ1₃σ3₃ + NgR1-Fc degly","x":1.44,"y":45},{"s":"μ1₃σ3₃ + NgR1-Fc degly","x":1.46,"y":54},{"s":"μ1₃σ3₃ + NgR1-Fc degly","x":1.48,"y":57},{"s":"μ1₃σ3₃ + NgR1-Fc degly","x":1.50,"y":55},{"s":"μ1₃σ3₃ + NgR1-Fc degly","x":1.52,"y":47},{"s":"μ1₃σ3₃ + NgR1-Fc degly","x":1.54,"y":37},{"s":"μ1₃σ3₃ + NgR1-Fc degly","x":1.56,"y":27},{"s":"μ1₃σ3₃ + NgR1-Fc degly","x":1.58,"y":19},{"s":"μ1₃σ3₃ + NgR1-Fc degly","x":1.62,"y":11},{"s":"μ1₃σ3₃ + NgR1-Fc degly","x":1.66,"y":7},{"s":"μ1₃σ3₃ + NgR1-Fc degly","x":1.70,"y":4.5},{"s":"μ1₃σ3₃ + NgR1-Fc degly","x":1.75,"y":2},{"s":"μ1₃σ3₃ + NgR1-Fc degly","x":1.80,"y":-0.5},{"s":"μ1₃σ3₃ + NgR1-Fc degly","x":1.83,"y":-0.8},{"s":"μ1₃σ3₃ + NgR1-Fc degly","x":1.87,"y":1.0},{"s":"μ1₃σ3₃ + NgR1-Fc degly","x":1.90,"y":1.8},{"s":"μ1₃σ3₃ + NgR1-Fc degly","x":1.93,"y":1.2},{"s":"μ1₃σ3₃ + NgR1-Fc degly","x":1.97,"y":-0.5},{"s":"μ1₃σ3₃ + NgR1-Fc degly","x":2.02,"y":-0.8},{"s":"μ1₃σ3₃ + NgR1-Fc degly","x":2.07,"y":0.8},{"s":"μ1₃σ3₃ + NgR1-Fc degly","x":2.10,"y":1.5},{"s":"μ1₃σ3₃ + NgR1-Fc degly","x":2.13,"y":0},{"s":"μ1₃σ3₃ + NgR1-Fc degly","x":2.17,"y":-1.5},{"s":"μ1₃σ3₃ + NgR1-Fc degly","x":2.25,"y":-2},{"s":"μ1₃σ3₃ + NgR1-Fc degly","x":2.40,"y":-2.7}
 ],
 "annA": [{"x":1.17,"y":83.3,"label":"1.17"},{"x":1.67,"y":24.9,"label":"1.67"}],
 "annB": [{"x":0.83,"y":63.8,"label":"0.83"},{"x":1.45,"y":65.7,"label":"1.45"},{"x":1.58,"y":92.5,"label":"1.58"}],
 "annC": [{"x":0.84,"y":10.6,"label":"0.84"},{"x":1.45,"y":70.4,"label":"1.45"},{"x":1.58,"y":134,"label":"1.58"}],
 "annD": [{"x":0.85,"y":9.1,"label":"0.85"},{"x":1.47,"y":67.1,"label":"1.47"},{"x":1.81,"y":7.8,"label":"1.81"}]
},
"columns": 2,
"align": "none",
"spacing": {"row": 5, "column": 1},
"resolve": {"scale": {"color": "independent", "strokeDash": "independent"}, "legend": {"color": "independent", "strokeDash": "independent"}},
"concat": [
  {"width": 504, "height": 295,
   "title": {"text": "A", "dx": -58},
   "resolve": {"axis": {"x": "independent", "y": "independent"}},
   "layer": [
    {"data": {"name": "A"},
     "mark": {"type": "line", "interpolate": "monotone", "strokeWidth": 1.5, "clip": true},
     "encoding": {
      "x": {"field": "x", "type": "quantitative", "scale": {"domain": [0.7, 2.4], "nice": false, "zero": false}, "axis": {"title": "SD 200 Elution Volume [ml]", "values": [1, 1.5, 2], "format": "~g"}},
      "y": {"field": "y", "type": "quantitative", "scale": {"domain": [-1.5, 85], "nice": false, "zero": false}, "axis": {"title": "UV₂₈₀ Absorption [mAu]", "values": [0, 20, 40, 60, 80], "format": "d"}},
      "color": {"field": "s", "type": "nominal", "scale": {"domain": ["μ1₃σ3₃", "NgR1", "μ1₃σ3₃ + NgR1-His 1:3", "μ1₃σ3₃ + NgR1-His 1:10"], "range": ["#2020ff", "#ff22ff", "#1e8c1e", "#1e8c1e"]}},
      "strokeDash": {"field": "s", "type": "nominal", "scale": {"domain": ["μ1₃σ3₃", "NgR1", "μ1₃σ3₃ + NgR1-His 1:3", "μ1₃σ3₃ + NgR1-His 1:10"], "range": [[1,0],[1,0],[1,0],[2,2]]}}
     }},
    {"data": {"name": "annA"}, "mark": {"type": "point", "shape": "triangle-down", "filled": true, "color": "#000", "opacity": 1, "size": 110},
     "encoding": {
      "x": {"field": "x", "type": "quantitative", "scale": {"domain": [0.7, 2.4], "nice": false, "zero": false}, "axis": {"orient": "bottom", "title": null, "labels": false, "domain": false, "values": [0.7,0.8,0.9,1.0,1.1,1.2,1.3,1.4,1.5,1.6,1.7,1.8,1.9,2.0,2.1,2.2,2.3,2.4]}},
      "y": {"field": "y", "type": "quantitative", "scale": {"domain": [-1.5, 85], "nice": false, "zero": false}, "axis": {"orient": "left", "title": null, "labels": false, "domain": false, "values": [0,5,10,15,20,25,30,35,40,45,50,55,60,65,70,75,80,85]}}}},
    {"data": {"name": "annA"}, "mark": {"type": "text", "dy": -14, "fontSize": 13, "color": "#222"},
     "encoding": {"x": {"field": "x", "type": "quantitative", "scale": {"domain": [0.7, 2.4], "nice": false, "zero": false}, "axis": null}, "y": {"field": "y", "type": "quantitative", "scale": {"domain": [-1.5, 85], "nice": false, "zero": false}, "axis": null}, "text": {"field": "label"}}}
   ]},
  {"width": 501, "height": 297,
   "title": {"text": "B", "dx": -57},
   "resolve": {"axis": {"x": "independent", "y": "independent"}},
   "layer": [
    {"data": {"name": "B"},
     "mark": {"type": "line", "interpolate": "monotone", "strokeWidth": 1.5, "clip": true},
     "encoding": {
      "x": {"field": "x", "type": "quantitative", "scale": {"domain": [0.6, 2.4], "nice": false, "zero": false}, "axis": {"title": "Superose 6 Elution Volume [ml]", "values": [1, 1.5, 2], "format": "~g"}},
      "y": {"field": "y", "type": "quantitative", "scale": {"domain": [-5.2, 90], "nice": false, "zero": false}, "axis": {"title": "UV₂₈₀ Absorption [mAu]", "values": [0, 20, 40, 60, 80], "format": "d"}},
      "color": {"field": "s", "type": "nominal", "scale": {"domain": ["μ1₃σ3₃ RT", "μ1₃σ3₃ + NgR1-Fc 4°C", "μ1₃σ3₃ + NgR1-Fc RT", "μ1₃σ3₃ + NgR1-Fc 37°C"], "range": ["#2020ff", "#1e8c1e", "#1e8c1e", "#1e8c1e"]}},
      "strokeDash": {"field": "s", "type": "nominal", "scale": {"domain": ["μ1₃σ3₃ RT", "μ1₃σ3₃ + NgR1-Fc 4°C", "μ1₃σ3₃ + NgR1-Fc RT", "μ1₃σ3₃ + NgR1-Fc 37°C"], "range": [[1,0],[1,0],[6,3],[2,2]]}}
     }},
    {"data": {"name": "annB"}, "mark": {"type": "point", "shape": "triangle-down", "filled": true, "color": "#000", "opacity": 1, "size": 110},
     "encoding": {
      "x": {"field": "x", "type": "quantitative", "scale": {"domain": [0.6, 2.4], "nice": false, "zero": false}, "axis": {"orient": "bottom", "title": null, "labels": false, "domain": false, "values": [0.6,0.7,0.8,0.9,1.0,1.1,1.2,1.3,1.4,1.5,1.6,1.7,1.8,1.9,2.0,2.1,2.2,2.3,2.4]}},
      "y": {"field": "y", "type": "quantitative", "scale": {"domain": [-5.2, 90], "nice": false, "zero": false}, "axis": {"orient": "left", "title": null, "labels": false, "domain": false, "values": [-5,0,5,10,15,20,25,30,35,40,45,50,55,60,65,70,75,80,85,90]}}}},
    {"data": {"name": "annB"}, "mark": {"type": "text", "dy": -14, "fontSize": 13, "color": "#222"},
     "encoding": {"x": {"field": "x", "type": "quantitative", "scale": {"domain": [0.6, 2.4], "nice": false, "zero": false}, "axis": null}, "y": {"field": "y", "type": "quantitative", "scale": {"domain": [-5.2, 90], "nice": false, "zero": false}, "axis": null}, "text": {"field": "label"}}}
   ]},
  {"width": 503, "height": 285,
   "title": {"text": "C", "dx": -58, "offset": 2},
   "resolve": {"axis": {"x": "independent", "y": "independent"}},
   "layer": [
    {"data": {"name": "C"},
     "mark": {"type": "line", "interpolate": "monotone", "strokeWidth": 1.5, "clip": true},
     "encoding": {
      "x": {"field": "x", "type": "quantitative", "scale": {"domain": [0.5836, 2.4], "nice": false, "zero": false}, "axis": {"title": "Superose 6 Elution Volume [ml]", "values": [1, 1.5, 2], "format": "~g"}},
      "y": {"field": "y", "type": "quantitative", "scale": {"domain": [-4, 140], "nice": false, "zero": false}, "axis": {"title": "UV₂₈₀ Absorption [mAu]", "offset": -9, "values": [0, 20, 40, 60, 80, 100, 120, 140], "format": "d"}},
      "color": {"field": "s", "type": "nominal", "scale": {"domain": ["μ1₃σ3₃", "NgR1-Fc", "μ1₃σ3₃ + NgR1-Fc + Ca²⁺"], "range": ["#2020ff", "#ff22ff", "#1e8c1e"]}},
      "strokeDash": {"field": "s", "type": "nominal", "scale": {"domain": ["μ1₃σ3₃", "NgR1-Fc", "μ1₃σ3₃ + NgR1-Fc + Ca²⁺"], "range": [[1,0],[1,0],[1,0]]}}
     }},
    {"data": {"name": "annC"}, "mark": {"type": "point", "shape": "triangle-down", "filled": true, "color": "#000", "opacity": 1, "size": 110},
     "encoding": {
      "x": {"field": "x", "type": "quantitative", "scale": {"domain": [0.5836, 2.4], "nice": false, "zero": false}, "axis": {"orient": "bottom", "title": null, "labels": false, "domain": false, "values": [0.6,0.7,0.8,0.9,1.0,1.1,1.2,1.3,1.4,1.5,1.6,1.7,1.8,1.9,2.0,2.1,2.2,2.3,2.4]}},
      "y": {"field": "y", "type": "quantitative", "scale": {"domain": [-4, 140], "nice": false, "zero": false}, "axis": {"orient": "left", "offset": -9, "title": null, "labels": false, "domain": false, "values": [0,5,10,15,20,25,30,35,40,45,50,55,60,65,70,75,80,85,90,95,100,105,110,115,120,125,130,135,140]}}}},
    {"data": {"name": "annC"}, "mark": {"type": "text", "dy": -14, "fontSize": 13, "color": "#222"},
     "encoding": {"x": {"field": "x", "type": "quantitative", "scale": {"domain": [0.5836, 2.4], "nice": false, "zero": false}, "axis": null}, "y": {"field": "y", "type": "quantitative", "scale": {"domain": [-4, 140], "nice": false, "zero": false}, "axis": null}, "text": {"field": "label"}}}
   ]},
  {"width": 501, "height": 283,
   "title": {"text": "D", "dx": -57, "offset": 2},
   "resolve": {"axis": {"x": "independent", "y": "independent"}},
   "layer": [
    {"data": {"name": "D"},
     "mark": {"type": "line", "interpolate": "monotone", "strokeWidth": 1.5, "clip": true},
     "encoding": {
      "x": {"field": "x", "type": "quantitative", "scale": {"domain": [0.6, 2.4], "nice": false, "zero": false}, "axis": {"title": "Superose 6 Elution Volume [ml]", "values": [1, 1.5, 2], "format": "~g"}},
      "y": {"field": "y", "type": "quantitative", "scale": {"domain": [-5.3, 70], "nice": false, "zero": false}, "axis": {"title": "UV₂₈₀ Absorption [mAu]", "values": [0, 10, 20, 30, 40, 50, 60, 70], "format": "d"}},
      "color": {"field": "s", "type": "nominal", "scale": {"domain": ["μ1₃σ3₃", "μ1₃σ3₃ + NgR1-His degly", "μ1₃σ3₃ + NgR1-Fc degly"], "range": ["#2020ff", "#1e8c1e", "#1e8c1e"]}},
      "strokeDash": {"field": "s", "type": "nominal", "scale": {"domain": ["μ1₃σ3₃", "μ1₃σ3₃ + NgR1-His degly", "μ1₃σ3₃ + NgR1-Fc degly"], "range": [[1,0],[1,0],[6,3]]}}
     }},
    {"data": {"name": "annD"}, "mark": {"type": "point", "shape": "triangle-down", "filled": true, "color": "#000", "opacity": 1, "size": 110},
     "encoding": {
      "x": {"field": "x", "type": "quantitative", "scale": {"domain": [0.6, 2.4], "nice": false, "zero": false}, "axis": {"orient": "bottom", "title": null, "labels": false, "domain": false, "values": [0.6,0.7,0.8,0.9,1.0,1.1,1.2,1.3,1.4,1.5,1.6,1.7,1.8,1.9,2.0,2.1,2.2,2.3,2.4]}},
      "y": {"field": "y", "type": "quantitative", "scale": {"domain": [-5.3, 70], "nice": false, "zero": false}, "axis": {"orient": "left", "title": null, "labels": false, "domain": false, "values": [-4,-2,0,2,4,6,8,10,12,14,16,18,20,22,24,26,28,30,32,34,36,38,40,42,44,46,48,50,52,54,56,58,60,62,64,66,68,70]}}}},
    {"data": {"name": "annD"}, "mark": {"type": "text", "dy": -14, "fontSize": 13, "color": "#222"},
     "encoding": {"x": {"field": "x", "type": "quantitative", "scale": {"domain": [0.6, 2.4], "nice": false, "zero": false}, "axis": null}, "y": {"field": "y", "type": "quantitative", "scale": {"domain": [-5.3, 70], "nice": false, "zero": false}, "axis": null}, "text": {"field": "label"}}}
   ]}
]
}
